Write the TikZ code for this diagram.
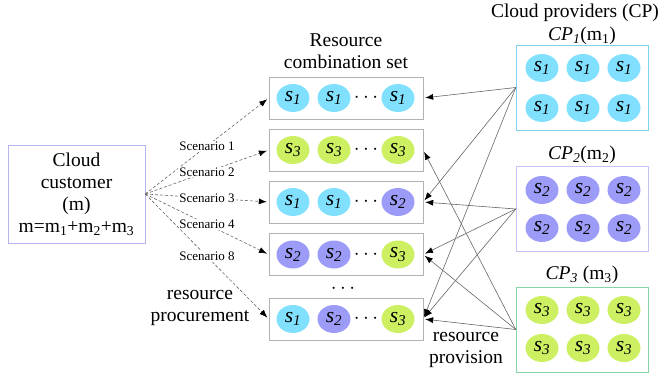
\documentclass[tikz,border=0pt]{standalone}
\usepackage{fontspec}
\setmainfont{Liberation Serif}
\usetikzlibrary{shapes, arrows, arrows.meta}
\definecolor{resone}{HTML}{82E0FF}
\definecolor{restwo}{HTML}{9C9CF8}
\definecolor{resthree}{HTML}{CCF062}
\definecolor{custline}{HTML}{B4B4F0}
\definecolor{cponeline}{HTML}{7ED2F0}
\definecolor{cptwoline}{HTML}{C4C4FA}
\definecolor{cpthreeline}{HTML}{84D4A4}
\newcommand{\sv}[1]{\textit{s}\textsubscript{\textit{#1}}}
\tikzstyle{customer} = [rectangle, minimum width=137pt, minimum height=98pt, text centered, draw=custline]
\tikzstyle{combo} = [rectangle, minimum width=154pt, minimum height=42pt, draw=black!30]
\tikzstyle{provider} = [rectangle, minimum width=132pt, minimum height=85pt]
\tikzstyle{res} = [ellipse, minimum width=33pt, minimum height=28pt, inner sep=0pt, font=\fontsize{21.5}{22}\selectfont]
\tikzstyle{s1} = [res, fill=resone]
\tikzstyle{s2} = [res, fill=restwo]
\tikzstyle{s3} = [res, fill=resthree]
\tikzstyle{scenario} = [fill=white, inner sep=1pt, font=\fontsize{13}{15}\selectfont]
\tikzstyle{arrow} = [draw=black!60, line width=0.6pt, -{Latex[length=8pt, width=6pt, black]}, shorten >=2pt]
\tikzstyle{dasharrow} = [arrow, dash pattern=on 3pt off 2pt]

\begin{document}
\begin{tikzpicture}[x=1pt, y=-1pt, align=center, font=\fontsize{19.5}{22}\selectfont]
    \useasboundingbox (0,0) rectangle (664,378);

    \node (customer) [customer] at (76.5,194) {Cloud\\customer\\(m)\\m=m\textsubscript{1}+m\textsubscript{2}+m\textsubscript{3}};

    \node (comboTitle) at (346,51) {Resource\\combination set};
    \foreach \y/\a/\b/\c [count=\i] in {98/1/1/1, 150/3/3/3, 202/1/1/2, 254.5/2/2/3, 319/1/2/3} {
        \node (row\i) [combo] at (346,\y) {};
        \node (row\i a) [s\a] at (293,\y) {\sv{\a}};
        \node (row\i b) [s\b] at (334,\y) {\sv{\b}};
        \node (row\i dots) at (366,\y) {$\cdots$};
        \node (row\i c) [s\c] at (398,\y) {\sv{\c}};
    }
    \node (moreRows) at (343,289) {$\cdots$};

    \node (cpTitle) at (575,13) {Cloud providers (CP)};
    \node (cp1label) at (582,36) {\textit{CP}\textsubscript{\textit{1}}(m\textsubscript{1})};
    \node (cp2label) at (582,155) {\textit{CP}\textsubscript{\textit{2}}(m\textsubscript{2})};
    \node (cp3label) at (582,275) {\textit{CP}\textsubscript{\textit{3}} (m\textsubscript{3})};
    \node (cp1) [provider, draw=cponeline] at (582,87.5) {};
    \node (cp2) [provider, draw=cptwoline] at (582,209) {};
    \node (cp3) [provider, draw=cpthreeline] at (582,329.5) {};
    \foreach \k/\ya/\yb in {1/68/108, 2/190/228, 3/310/348} {
        \foreach \x [count=\j] in {542,583,624} {
            \node (cp\k u\j) [s\k] at (\x,\ya) {\sv{\k}};
            \node (cp\k l\j) [s\k] at (\x,\yb) {\sv{\k}};
        }
    }

    \draw [dasharrow] (customer.east) -- node[scenario] {Scenario 1} (row1.west);
    \draw [dasharrow] (customer.east) -- node[scenario] {Scenario 2} (row2.west);
    \draw [dasharrow] (customer.east) -- node[scenario] {Scenario 3} (row3.west);
    \draw [dasharrow] (customer.east) -- node[scenario] {Scenario 4} (row4.west);
    \draw [dasharrow] (customer.east) -- node[scenario] {Scenario 8} (row5.west);
    \node (procure) at (200,308) {resource\\procurement};

    \draw [arrow] (cp1.west) -- (row1.east);
    \draw [arrow] (cp1.west) -- (row3.east);
    \draw [arrow] (cp1.west) -- (row5.east);
    \draw [arrow] (cp2.west) -- (row3.east);
    \draw [arrow] (cp2.west) -- (row4.east);
    \draw [arrow] (cp2.west) -- (row5.east);
    \draw [arrow] (cp3.west) -- (row2.east);
    \draw [arrow] (cp3.west) -- (row4.east);
    \draw [arrow] (cp3.west) -- (row5.east);
    \node (provision) at (466,350) {resource\\provision};
\end{tikzpicture}
\end{document}
